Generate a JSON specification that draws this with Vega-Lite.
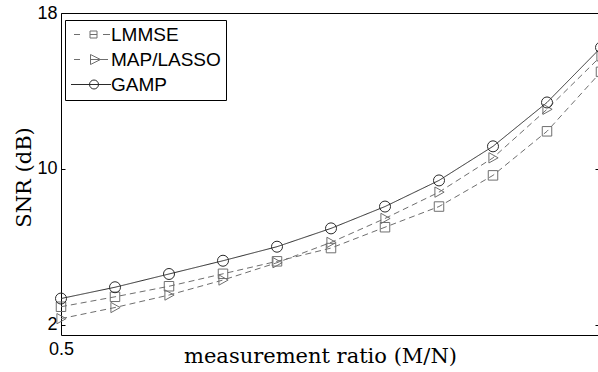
{
  "$schema": "https://vega.github.io/schema/vega-lite/v6.json",
  "width": 537,
  "height": 322,
  "autosize": {"type": "none"},
  "padding": {"left": 61, "top": 13, "right": 0, "bottom": 37},
  "background": "white",
  "config": {
    "view": {"stroke": null},
    "axis": {"grid": false, "labelFont": "Liberation Sans", "labelFontSize": 18, "labelColor": "black", "domainColor": "black", "domainWidth": 1, "tickColor": "black", "labelFlush": false, "labelOverlap": false, "labelBound": false},
    "legend": {"orient": "none", "legendX": 4, "legendY": 7, "title": null, "padding": 5, "strokeColor": "black", "fillColor": "white", "labelFont": "Liberation Sans", "labelFontSize": 19, "labelColor": "black", "symbolSize": 100, "symbolOffset": 14, "labelOffset": 8, "rowPadding": 5, "symbolStrokeWidth": 1, "symbolOpacity": 1}
  },
  "data": {
    "values": [
      {"method": "LMMSE", "ratio": 0.5, "snr": 2.93},
      {"method": "LMMSE", "ratio": 0.55, "snr": 3.44},
      {"method": "LMMSE", "ratio": 0.6, "snr": 3.98},
      {"method": "LMMSE", "ratio": 0.65, "snr": 4.62},
      {"method": "LMMSE", "ratio": 0.7, "snr": 5.26},
      {"method": "LMMSE", "ratio": 0.75, "snr": 5.94},
      {"method": "LMMSE", "ratio": 0.8, "snr": 7.01},
      {"method": "LMMSE", "ratio": 0.85, "snr": 8.07},
      {"method": "LMMSE", "ratio": 0.9, "snr": 9.67},
      {"method": "LMMSE", "ratio": 0.95, "snr": 11.93},
      {"method": "LMMSE", "ratio": 1.0, "snr": 14.98},
      {"method": "MAP/LASSO", "ratio": 0.5, "snr": 2.32},
      {"method": "MAP/LASSO", "ratio": 0.55, "snr": 2.89},
      {"method": "MAP/LASSO", "ratio": 0.6, "snr": 3.53},
      {"method": "MAP/LASSO", "ratio": 0.65, "snr": 4.30},
      {"method": "MAP/LASSO", "ratio": 0.7, "snr": 5.19},
      {"method": "MAP/LASSO", "ratio": 0.75, "snr": 6.23},
      {"method": "MAP/LASSO", "ratio": 0.8, "snr": 7.46},
      {"method": "MAP/LASSO", "ratio": 0.85, "snr": 8.81},
      {"method": "MAP/LASSO", "ratio": 0.9, "snr": 10.57},
      {"method": "MAP/LASSO", "ratio": 0.95, "snr": 13.06},
      {"method": "MAP/LASSO", "ratio": 1.0, "snr": 15.79},
      {"method": "GAMP", "ratio": 0.5, "snr": 3.35},
      {"method": "GAMP", "ratio": 0.55, "snr": 3.93},
      {"method": "GAMP", "ratio": 0.6, "snr": 4.61},
      {"method": "GAMP", "ratio": 0.65, "snr": 5.29},
      {"method": "GAMP", "ratio": 0.7, "snr": 6.01},
      {"method": "GAMP", "ratio": 0.75, "snr": 6.95},
      {"method": "GAMP", "ratio": 0.8, "snr": 8.07},
      {"method": "GAMP", "ratio": 0.85, "snr": 9.41},
      {"method": "GAMP", "ratio": 0.9, "snr": 11.16},
      {"method": "GAMP", "ratio": 0.95, "snr": 13.41},
      {"method": "GAMP", "ratio": 1.0, "snr": 16.23}
    ]
  },
  "layer": [
    {
      "mark": {"type": "line", "strokeWidth": 1},
      "encoding": {
        "x": {"field": "ratio", "type": "quantitative", "scale": {"domain": [0.5, 0.997222], "nice": false, "zero": false},
          "axis": {"orient": "bottom", "values": [0.5], "format": ".1f", "ticks": false, "labelPadding": 5, "title": "measurement ratio (M/N)", "titleFont": "DejaVu Serif", "titleFontSize": 21, "titleFontWeight": "normal", "titleColor": "black", "titleX": 259, "titleY": 27, "titleBaseline": "alphabetic", "titleAlign": "center"}},
        "y": {"field": "snr", "type": "quantitative", "scale": {"domain": [1.48, 18], "nice": false, "zero": false},
          "axis": {"orient": "left", "values": [2, 10, 18], "tickSize": -4, "labelPadding": 8, "title": "SNR (dB)", "titleFont": "DejaVu Serif", "titleFontSize": 21, "titleFontWeight": "normal", "titleColor": "black", "titleX": -31, "titleY": 164, "titleAngle": -90, "titleBaseline": "alphabetic", "titleAlign": "center"}},
        "color": {"field": "method", "type": "nominal",
          "scale": {"domain": ["LMMSE", "MAP/LASSO", "GAMP"], "range": ["#6e6e6e", "#6e6e6e", "#2a2a2a"]}, "legend": null},
        "strokeDash": {"field": "method", "type": "nominal",
          "scale": {"domain": ["LMMSE", "MAP/LASSO", "GAMP"], "range": [[6, 4], [6, 4], [1, 0]]}, "legend": null}
      }
    },
    {
      "mark": {"type": "point", "filled": false, "strokeWidth": 1, "opacity": 1},
      "encoding": {
        "x": {"field": "ratio", "type": "quantitative", "axis": {"orient": "top", "labels": false, "ticks": false, "title": null}},
        "y": {"field": "snr", "type": "quantitative", "axis": {"orient": "right", "values": [2, 10, 18], "labels": false, "domain": false, "tickSize": -3, "title": null}},
        "shape": {"field": "method", "type": "nominal",
          "scale": {"domain": ["LMMSE", "MAP/LASSO", "GAMP"], "range": ["M-1,-1H1V1H-1Z", "M-0.8,-1L1,0L-0.8,1Z", "circle"]}, "legend": null},
        "stroke": {"field": "method", "type": "nominal",
          "scale": {"domain": ["LMMSE", "MAP/LASSO", "GAMP"], "range": ["#6e6e6e", "#6e6e6e", "#2a2a2a"]}, "legend": null},
        "size": {"field": "method", "type": "nominal",
          "scale": {"domain": ["LMMSE", "MAP/LASSO", "GAMP"], "range": [90, 121, 100]}, "legend": null}
      }
    },
    {
      "transform": [{"filter": "datum.ratio > 2"}],
      "mark": {"type": "point", "filled": false, "strokeWidth": 1, "opacity": 1},
      "encoding": {
        "shape": {"field": "method", "type": "nominal",
          "scale": {"domain": ["LMMSE", "MAP/LASSO", "GAMP"], "range": ["M-3.9,0H-2.7M-0.7,-0.7H0.7V0.7H-0.7ZM-0.7,0H0.7M1.9,0H3.3", "M-3.9,0H-2.7M-0.6,-1L1.4,0L-0.6,1ZM-0.6,0H2.9", "M-4.5,0H3.5M-0.8,0A0.9,0.9 0 1,0 1,0A0.9,0.9 0 1,0 -0.8,0"]},
          "legend": {"title": null}},
        "stroke": {"field": "method", "type": "nominal",
          "scale": {"domain": ["LMMSE", "MAP/LASSO", "GAMP"], "range": ["#6e6e6e", "#6e6e6e", "#2a2a2a"]},
          "legend": {"title": null}}
      }
    }
  ],
  "resolve": {"axis": {"x": "independent", "y": "independent"}, "scale": {"shape": "independent", "stroke": "independent"}}
}
